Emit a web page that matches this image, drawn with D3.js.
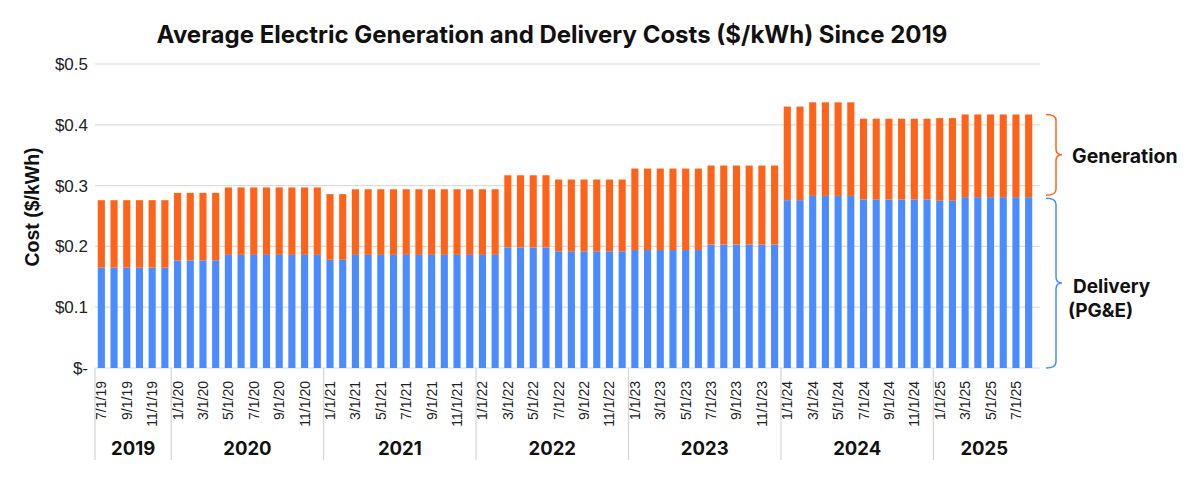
<!DOCTYPE html>
<html>
<head>
<meta charset="utf-8">
<script src="https://cdn.jsdelivr.net/npm/d3@7"></script>
<style>
html,body{margin:0;padding:0;background:#fff;}
svg{display:block;}
</style>
</head>
<body>
<svg id="chart" width="1200" height="480"></svg>
<script>
// ---- Data ----
const months = [
  "7/1/19","8/1/19","9/1/19","10/1/19","11/1/19","12/1/19",
  "1/1/20","2/1/20","3/1/20","4/1/20","5/1/20","6/1/20","7/1/20","8/1/20","9/1/20","10/1/20","11/1/20","12/1/20",
  "1/1/21","2/1/21","3/1/21","4/1/21","5/1/21","6/1/21","7/1/21","8/1/21","9/1/21","10/1/21","11/1/21","12/1/21",
  "1/1/22","2/1/22","3/1/22","4/1/22","5/1/22","6/1/22","7/1/22","8/1/22","9/1/22","10/1/22","11/1/22","12/1/22",
  "1/1/23","2/1/23","3/1/23","4/1/23","5/1/23","6/1/23","7/1/23","8/1/23","9/1/23","10/1/23","11/1/23","12/1/23",
  "1/1/24","2/1/24","3/1/24","4/1/24","5/1/24","6/1/24","7/1/24","8/1/24","9/1/24","10/1/24","11/1/24","12/1/24",
  "1/1/25","2/1/25","3/1/25","4/1/25","5/1/25","6/1/25","7/1/25","8/1/25"
];
const delivery = [
  0.165,0.165,0.165,0.165,0.165,0.165,
  0.177,0.177,0.177,0.177,0.186,0.186,0.186,0.186,0.186,0.186,0.186,0.186,
  0.178,0.178,0.186,0.186,0.186,0.186,0.186,0.186,0.186,0.186,0.186,0.186,
  0.186,0.186,0.198,0.198,0.198,0.198,0.192,0.192,0.192,0.192,0.192,0.192,
  0.194,0.194,0.194,0.194,0.194,0.194,0.203,0.203,0.203,0.203,0.203,0.203,
  0.276,0.276,0.283,0.283,0.283,0.283,0.277,0.277,0.277,0.277,0.277,0.277,
  0.275,0.275,0.281,0.281,0.281,0.281,0.281,0.281
];
const generation = [
  0.111,0.111,0.111,0.111,0.111,0.111,
  0.111,0.111,0.111,0.111,0.111,0.111,0.111,0.111,0.111,0.111,0.111,0.111,
  0.108,0.108,0.108,0.108,0.108,0.108,0.108,0.108,0.108,0.108,0.108,0.108,
  0.108,0.108,0.119,0.119,0.119,0.119,0.118,0.118,0.118,0.118,0.118,0.118,
  0.134,0.134,0.134,0.134,0.134,0.134,0.130,0.130,0.130,0.130,0.130,0.130,
  0.154,0.154,0.154,0.154,0.154,0.154,0.133,0.133,0.133,0.133,0.133,0.133,
  0.136,0.136,0.136,0.136,0.136,0.136,0.136,0.136
];
const years = ["2019","2020","2021","2022","2023","2024","2025"];
const yTicks = [0,0.1,0.2,0.3,0.4,0.5];
const yTickLabels = ["$-","$0.1","$0.2","$0.3","$0.4","$0.5"];
const seriesNames = ["Delivery","Generation"];
const colors = {Delivery:"#4A8BFF", Generation:"#FF6319"};

// ---- Layout ----
const svg = d3.select("#chart");
const plotL = 95, plotR = 1035, plotT = 64, plotB = 368;

const x = d3.scaleBand().domain(months).range([plotL, plotR]).paddingInner(0.44).paddingOuter(0.22);
const y = d3.scaleLinear().domain([0, 0.5]).range([plotB, plotT]);

// Title
svg.append("text")
  .attr("x", 552).attr("y", 43)
  .attr("text-anchor", "middle")
  .attr("font-family", "Inter, 'Noto Sans', sans-serif")
  .attr("font-weight", 700)
  .attr("font-size", 24)
  .attr("fill", "#111")
  .text("Average Electric Generation and Delivery Costs ($/kWh) Since 2019");

// Gridlines
svg.append("g").selectAll("line").data(yTicks).join("line")
  .attr("x1", plotL).attr("x2", 1040)
  .attr("y1", d => y(d)).attr("y2", d => y(d))
  .attr("stroke", "#dcdcdc").attr("stroke-width", 1.2);

// Y axis labels
const yAxis = d3.axisLeft(y).tickValues(yTicks).tickSize(0).tickPadding(0)
  .tickFormat((d, i) => yTickLabels[i]);
const yg = svg.append("g").attr("transform", `translate(${88},0)`).call(yAxis);
yg.select(".domain").remove();
yg.selectAll("text")
  .attr("font-family", "'Liberation Sans', Arial, sans-serif")
  .attr("font-size", 17).attr("fill", "#222");

// Y axis title
svg.append("text")
  .attr("transform", "translate(39,207) rotate(-90)")
  .attr("text-anchor", "middle")
  .attr("font-family", "'Liberation Sans', Arial, sans-serif")
  .attr("font-weight", 700).attr("font-size", 19.5).attr("fill", "#111")
  .text("Cost ($/kWh)");

// Stacked bars
const rows = months.map((m, i) => ({month: m, Delivery: delivery[i], Generation: generation[i]}));
const stack = d3.stack().keys(seriesNames)(rows);
svg.append("g").selectAll("g").data(stack).join("g")
  .attr("fill", d => colors[d.key])
  .selectAll("rect").data(d => d).join("rect")
  .attr("x", d => x(d.data.month))
  .attr("width", x.bandwidth())
  .attr("y", d => y(d[1]))
  .attr("height", d => y(d[0]) - y(d[1]));

// X tick labels (every other month)
const xg = svg.append("g");
xg.selectAll("text").data(months.filter((m, i) => i % 2 === 0)).join("text")
  .attr("transform", d => `translate(${x(d) + x.bandwidth()/2 + 5},381) rotate(-90)`)
  .attr("text-anchor", "end")
  .attr("font-family", "'Liberation Sans', Arial, sans-serif")
  .attr("font-size", 14).attr("fill", "#222")
  .text(d => d);

// Year separators and labels
const yearStart = years.map(yr => months.findIndex(m => m.endsWith("/" + yr.slice(2))));
const yearEnd = years.map((yr, i) => (i < years.length - 1 ? yearStart[i+1] : months.length));
const step = x.step();
const xPos = idx => (idx < months.length ? x(months[idx]) - step * x.paddingInner() / 2 : plotR);
svg.append("g").selectAll("line").data(yearStart).join("line")
  .attr("x1", d => xPos(d)).attr("x2", d => xPos(d))
  .attr("y1", plotB).attr("y2", 460)
  .attr("stroke", "#d4d4d4").attr("stroke-width", 1.2);
svg.append("g").selectAll("text").data(years).join("text")
  .attr("x", (d, i) => (xPos(yearStart[i]) + xPos(yearEnd[i])) / 2)
  .attr("y", 455)
  .attr("text-anchor", "middle")
  .attr("font-family", "Inter, 'Noto Sans', sans-serif")
  .attr("font-weight", 700).attr("font-size", 18.5).attr("fill", "#111")
  .text(d => d);

// Braces
function brace(y1, y2, xL, xR, color) {
  const ym = (y1 + y2) / 2;
  const xm = (xL + xR) / 2 + 2;
  const r = 6;
  const p = d3.path();
  p.moveTo(xL, y1);
  p.quadraticCurveTo(xm, y1, xm, y1 + r);
  p.lineTo(xm, ym - r);
  p.quadraticCurveTo(xm, ym, xR, ym);
  p.quadraticCurveTo(xm, ym, xm, ym + r);
  p.lineTo(xm, y2 - r);
  p.quadraticCurveTo(xm, y2, xL, y2);
  svg.append("path").attr("d", p.toString())
    .attr("fill", "none").attr("stroke", color).attr("stroke-width", 1.5);
}
const lastTotal = delivery[delivery.length - 1] + generation[generation.length - 1];
brace(y(lastTotal), y(delivery[delivery.length - 1]) - 2, 1046, 1062, colors.Generation);
brace(y(delivery[delivery.length - 1]) + 1, y(0), 1046, 1062, colors.Delivery);

const labelFont = "Inter, 'Noto Sans', sans-serif";
svg.append("text").attr("x", 1072).attr("y", 163)
  .attr("font-family", labelFont).attr("font-weight", 700).attr("font-size", 19.5).attr("fill", "#111")
  .text("Generation");
svg.append("text").attr("x", 1073).attr("y", 293)
  .attr("font-family", labelFont).attr("font-weight", 700).attr("font-size", 19).attr("fill", "#111")
  .text("Delivery");
svg.append("text").attr("x", 1068).attr("y", 317)
  .attr("font-family", labelFont).attr("font-weight", 700).attr("font-size", 19).attr("fill", "#111")
  .text("(PG&E)");
</script>
</body>
</html>
